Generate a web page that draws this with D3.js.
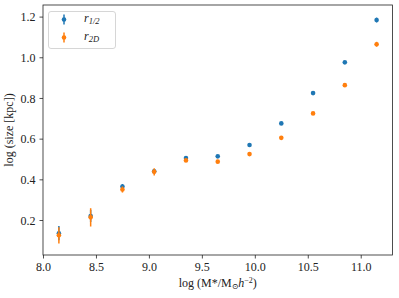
<!DOCTYPE html>
<html>
<head>
<meta charset="utf-8">
<script src="https://cdn.jsdelivr.net/npm/d3@7"></script>
<style>
  body { margin: 0; background: #fff; }
  text { font-family: "Liberation Serif", "DejaVu Serif", serif; fill: #222; }
</style>
</head>
<body>
<div id="chart"></div>
<script>
// log stellar mass bins
const massBins = [8.15, 8.45, 8.75, 9.05, 9.35, 9.65, 9.95, 10.25, 10.55, 10.85, 11.15];

// r_1/2 sizes and errors
const rHalf = [0.135, 0.22, 0.365, 0.44, 0.505, 0.513, 0.569, 0.675, 0.824, 0.975, 1.183];
const rHalfErr = [0.035, 0.03, 0.012, 0.01, 0.006, 0.006, 0.006, 0.006, 0.006, 0.006, 0.012];

// r_2D sizes and errors
const r2D = [0.125, 0.213, 0.35, 0.437, 0.493, 0.487, 0.524, 0.604, 0.724, 0.863, 1.064];
const r2DErr = [0.04, 0.045, 0.015, 0.018, 0.006, 0.006, 0.006, 0.006, 0.006, 0.006, 0.012];

const xTicks = [8.0, 8.5, 9.0, 9.5, 10.0, 10.5, 11.0];
const yTicks = [0.2, 0.4, 0.6, 0.8, 1.0, 1.2];

const width = 399, height = 298;
const margin = {left: 43, right: 6.5, top: 5, bottom: 43};
const fontSize = "12px";

const svg = d3.select("#chart")
    .append("svg")
    .attr("width", width)
    .attr("height", height);

const x = d3.scaleLinear()
    .domain([8.0, 11.3])
    .range([margin.left, width - margin.right]);

const y = d3.scaleLinear()
    .domain([0.028, 1.257])
    .range([height - margin.bottom, margin.top]);

// axes
const xAxis = svg.append("g")
    .attr("transform", `translate(0,${height - margin.bottom})`)
    .call(d3.axisBottom(x).tickValues(xTicks).tickFormat(d3.format(".1f")).tickSizeOuter(0).tickSize(3.5).tickPadding(4));

const yAxis = svg.append("g")
    .attr("transform", `translate(${margin.left},0)`)
    .call(d3.axisLeft(y).tickValues(yTicks).tickFormat(d3.format(".1f")).tickSizeOuter(0).tickSize(3.5).tickPadding(4));

[xAxis, yAxis].forEach(a => {
    a.select(".domain").remove();
    a.selectAll(".tick line").attr("stroke", "#222").attr("stroke-width", 0.8);
    a.selectAll(".tick text")
        .attr("font-size", fontSize)
        .attr("font-family", "'Liberation Serif', serif")
        .attr("fill", "#333");
});
yAxis.selectAll(".tick text").attr("dy", "0.35em");

// frame
svg.append("rect")
    .attr("x", margin.left)
    .attr("y", margin.top)
    .attr("width", width - margin.right - margin.left)
    .attr("height", height - margin.bottom - margin.top)
    .attr("fill", "none")
    .attr("stroke", "#222")
    .attr("stroke-width", 0.8);

// error bar series
function drawSeries(vals, errs, color) {
    const g = svg.append("g");
    massBins.forEach((m, i) => {
        g.append("line")
            .attr("x1", x(m))
            .attr("x2", x(m))
            .attr("y1", y(vals[i] - errs[i]))
            .attr("y2", y(vals[i] + errs[i]))
            .attr("stroke", color)
            .attr("stroke-width", 1.5);
        g.append("circle")
            .attr("cx", x(m))
            .attr("cy", y(vals[i]))
            .attr("r", 2.3)
            .attr("fill", color);
    });
}

drawSeries(rHalf, rHalfErr, "#1f77b4");
drawSeries(r2D, r2DErr, "#ff7f0e");

// legend
const legend = svg.append("g");
legend.append("rect")
    .attr("x", 48.5)
    .attr("y", 11.5)
    .attr("width", 67)
    .attr("height", 37)
    .attr("rx", 2.5)
    .attr("fill", "#fff")
    .attr("fill-opacity", 0.8)
    .attr("stroke", "#ccc")
    .attr("stroke-width", 0.8);

const legendItems = [
    {color: "#1f77b4", sub: "1/2", yPos: 19.5},
    {color: "#ff7f0e", sub: "2D", yPos: 37.5}
];
legendItems.forEach(d => {
    legend.append("line")
        .attr("x1", 64).attr("x2", 64)
        .attr("y1", d.yPos - 5).attr("y2", d.yPos + 5)
        .attr("stroke", d.color)
        .attr("stroke-width", 1.5);
    legend.append("circle")
        .attr("cx", 64).attr("cy", d.yPos).attr("r", 2.3)
        .attr("fill", d.color);
    const t = legend.append("text")
        .attr("x", 84)
        .attr("y", d.yPos + 2)
        .attr("font-size", fontSize);
    t.append("tspan").attr("font-style", "italic").text("r");
    t.append("tspan")
        .attr("font-size", "8.5px")
        .attr("font-style", "italic")
        .attr("dy", 2.5)
        .text(d.sub);
});

// axis labels
const xl = svg.append("text")
    .attr("x", (margin.left + width - margin.right) / 2)
    .attr("y", 287)
    .attr("text-anchor", "middle")
    .attr("font-size", fontSize);
xl.append("tspan").text("log (M*/M");
xl.append("tspan").attr("font-size", "8px").attr("dy", 2).text("⊙");
xl.append("tspan").attr("font-style", "italic").attr("dy", -2).text("h");
xl.append("tspan").attr("font-size", "8px").attr("dy", -4).text("−2");
xl.append("tspan").attr("dy", 4).text(")");

svg.append("text")
    .attr("transform", `translate(13,${(margin.top + height - margin.bottom) / 2}) rotate(-90)`)
    .attr("text-anchor", "middle")
    .attr("font-size", fontSize)
    .text("log (size [kpc])");
</script>
</body>
</html>
